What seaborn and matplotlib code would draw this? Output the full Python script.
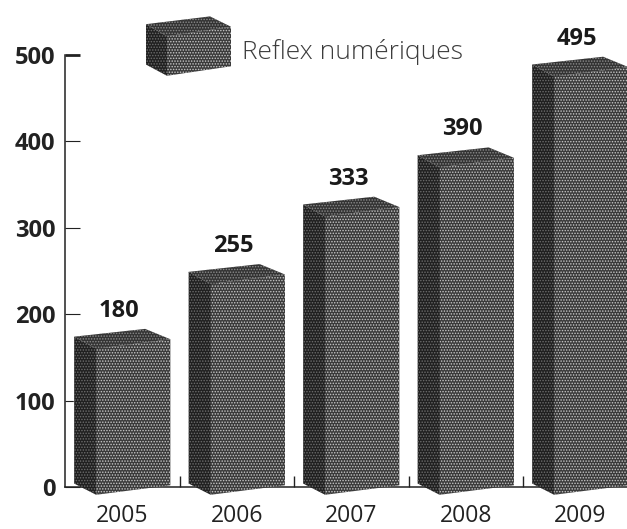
import pandas as pd
import seaborn as sns
import matplotlib.pyplot as plt
from matplotlib.patches import Polygon

years = ["2005", "2006", "2007", "2008", "2009"]
ventes = [180, 255, 333, 390, 495]
y_ticks = [0, 100, 200, 300, 400, 500]
serie = "Reflex numériques"

W, H = 627, 529
X_LEFT, X_STEP = 65, 114.5
Y_BASE, Y_TOP = 487, 55
PX_X = 1 / X_STEP
PX_Y = 500 / (Y_BASE - Y_TOP)

sns.set_style("white")
plt.rcParams["font.family"] = ["Open Sans", "DejaVu Sans"]
plt.rcParams["hatch.linewidth"] = 0.7

df = pd.DataFrame({"annee": years, "ventes": ventes})

fig = plt.figure(figsize=(W / 100, H / 100), dpi=100)
ax = fig.add_axes([X_LEFT / W, 1 - Y_BASE / H, (W - X_LEFT) / W, (Y_BASE - Y_TOP) / H])

sns.barplot(data=df, x="annee", y="ventes", color="#262626", width=0.84,
            saturation=1, ax=ax, zorder=2)


def face(pts, dark, light):
    ax.add_patch(Polygon(pts, closed=True, facecolor=dark, edgecolor=light, hatch="......",
                         linewidth=0, clip_on=False, zorder=3))


# boite en fausse 3D autour de la silhouette (decalages mesures en pixels)
def box(x0, x1, y0, y1, side=22, back=71):
    xs = x0 + side * PX_X
    xb = x0 + back * PX_X
    # faces: gauche, avant, dessus
    face([(x0, y1 - 6), (xs, y1 - 20), (xs, y0 - 9), (x0, y0 + 4)], "#202020", "#6e6e6e")
    face([(xs, y1 - 20), (x1, y1 - 9), (x1, y0 + 2), (xs, y0 - 9)], "#3a3a3a", "#c8c8c8")
    face([(x0, y1 - 6), (xb, y1 + 3), (x1, y1 - 9), (xs, y1 - 20)], "#333333", "#8c8c8c")


for p, v in zip(ax.patches[:len(ventes)], ventes):
    # la silhouette reste cachee sous les faces
    p.set_y(6)
    p.set_height(v - 24)
    x0, x1 = p.get_x(), p.get_x() + p.get_width()
    box(x0, x1, 0, v)
    ax.text((x0 + x1) / 2 - 3 * PX_X, v + 10, str(v), ha="center", va="bottom",
            fontsize=17, fontweight="bold", color="#1a1a1a", zorder=5)

# legende
leg_x0 = (146 - X_LEFT) * PX_X - 0.5
leg_x1 = (231 - X_LEFT) * PX_X - 0.5
box(leg_x0, leg_x1, (Y_BASE - 68) * PX_Y, (Y_BASE - 19) * PX_Y, side=21, back=64)
ax.text((242 - X_LEFT) * PX_X - 0.5, (Y_BASE - 52) * PX_Y, serie, ha="left", va="center",
        fontsize=19, color="#3c3c3c", fontweight="light")

ax.set_xlim(-0.5, (W - X_LEFT) * PX_X - 0.5)
ax.set_ylim(0, 500)
ax.set_xlabel("")
ax.set_ylabel("")
ax.set_yticks(y_ticks)
ax.set_xticks([0.5, 1.5, 2.5, 3.5], minor=True)

ax.tick_params(axis="y", direction="in", length=11, width=0.8, color="#222222",
               labelsize=17, labelcolor="#222222", pad=7, left=True)
for lab in ax.get_yticklabels():
    lab.set_fontweight("bold")
ax.yaxis.get_major_ticks()[-1].tick1line.set_markeredgewidth(2)
ax.tick_params(axis="x", which="major", length=0, labelsize=16.5, labelcolor="#222222", pad=12)
ax.tick_params(axis="x", which="minor", direction="in", length=8, width=1, color="#222222", bottom=True)

sns.despine(ax=ax)
ax.spines["left"].set_linewidth(1.1)
ax.spines["left"].set_color("#222222")
ax.spines["bottom"].set_linewidth(1.1)
ax.spines["bottom"].set_color("#222222")

fig.savefig("out.png", dpi=100)
plt.close(fig)
